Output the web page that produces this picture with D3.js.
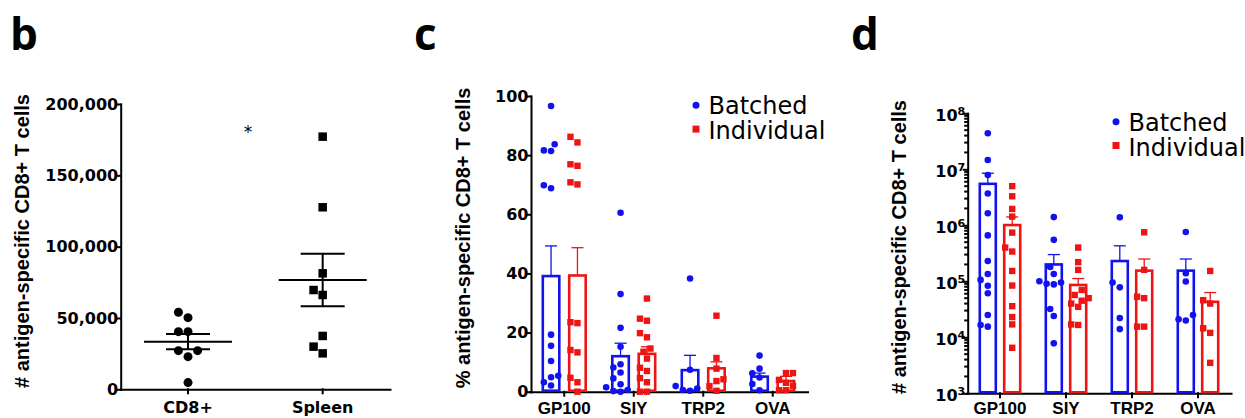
<!DOCTYPE html>
<html>
<head>
<meta charset="utf-8">
<script src="https://cdn.jsdelivr.net/npm/d3@7"></script>
<style>
  body { margin: 0; background: #fff; }
  svg { display: block; }
  .axis text { font-family: "DejaVu Sans"; font-weight: bold; font-size: 16px; fill: #000; }
  .axis.cat text { font-family: "Liberation Sans"; font-size: 17px; }
  .axis path, .axis line { stroke: #000; stroke-width: 2; stroke-linecap: square; }
  .ylab { font-family: "Liberation Sans"; font-weight: bold; font-size: 20px; }
  .legend { font-family: "DejaVu Sans"; font-size: 24px; }
  .panel { font-family: "Open Sans"; font-weight: bold; font-size: 44px; }
</style>
</head>
<body>
<svg id="chart" width="1245" height="418"></svg>
<script>
// ---- panel b data
var bGroups = ["CD8+", "Spleen"];
var bCD8 = [54000, 50200, 40400, 40400, 27100, 27100, 22900, 4700];
var bSpleen = [177100, 127600, 81300, 69600, 66100, 37400, 29900, 25200];
var bMean = [33400, 76600];
var bSem = [5400, 18400];
var bTicks = [0, 50000, 100000, 150000, 200000];

// ---- panels c / d shared
var categories = ["GP100", "SIY", "TRP2", "OVA"];
var seriesNames = ["Batched", "Individual"];

// ---- panel c data (% of CD8+ T cells)
var cTicks = [0, 20, 40, 60, 80, 100];
var cBatchedMean = [39.1, 12.0, 7.3, 5.1];
var cBatchedSem = [10.2, 4.4, 5.0, 1.2];
var cIndividualMean = [39.3, 12.8, 7.9, 3.6];
var cIndividualSem = [9.4, 2.4, 2.2, 1.6];
var cBatchedPoints = [
  [96.6, 83.7, 81.6, 81.4, 69.8, 68.8, 19.3, 15.5, 10.4, 5.4, 4.9, 3.2, 2.1],
  [60.5, 33.0, 21.6, 15.2, 9.3, 8.2, 6.5, 4.5, 2.5, 1.5, 0.6, 0.2, 0],
  [38.3, 7.4, 1.9, 1.1, 0.6, 0.3],
  [12.2, 7.8, 6.2, 4.8, 2.6, 0.5]
];
var cIndividualPoints = [
  [86.2, 84.3, 76.9, 76.4, 70.8, 70.1, 23.5, 23.2, 14.1, 13.3, 4.7, 3.2, 0],
  [31.5, 24.7, 24.0, 19.8, 18.4, 14.6, 13.5, 11.2, 8.1, 7.0, 4.6, 3.2, 0, 0],
  [25.7, 11.4, 7.8, 4.2, 3.6, 1.9, 0.3],
  [6.3, 6.3, 4.0, 3.0, 2.0, 0.5, 0.5]
];

// ---- panel d data (# cells, log)
var dTicks = [1e3, 1e4, 1e5, 1e6, 1e7, 1e8];
var dBatchedMean = [5.5e6, 2.0e5, 2.3e5, 1.55e5];
var dBatchedSem = [3.0e6, 1.0e5, 2.0e5, 0.95e5];
var dIndividualMean = [1.01e6, 8.6e4, 1.55e5, 4.3e4];
var dIndividualSem = [0.4e6, 2.6e4, 0.95e5, 2.0e4];
var dBatchedPoints = [
  [4.4e7, 1.47e7, 7.9e6, 3.7e6, 1.64e6, 6.6e5, 2.3e5, 1.35e5, 1.06e5, 8.3e4, 6.1e4, 2.5e4, 1.66e4, 1.55e4],
  [1.4e6, 5.5e5, 1.8e5, 1.35e5, 1.0e5, 9.5e4, 9.0e4, 8.8e4, 3.2e4, 2.4e4, 7.8e3],
  [1.39e6, 9.5e4, 7.8e4, 2.2e4, 1.4e4],
  [7.6e5, 1.39e5, 9.9e4, 2.5e4, 2.1e4, 2.0e4]
];
var dIndividualPoints = [
  [5.0e6, 3.3e6, 1.96e6, 1.43e6, 7.4e5, 4.0e5, 3.4e5, 1.53e5, 8.4e4, 3.6e4, 2.3e4, 1.7e4, 6.5e3],
  [4.0e5, 2.2e5, 1.6e5, 7.0e4, 5.7e4, 5.0e4, 4.5e4, 4.0e4, 3.5e4, 1.7e4, 1.66e4],
  [7.5e5, 1.6e5, 5.3e4, 5.0e4, 1.55e4, 1.55e4],
  [1.53e5, 4.6e4, 4.0e4, 1.45e4, 1.2e4, 3.5e3]
];

var blue = "#1212ee";
var red = "#ee1414";

var svg = d3.select("#chart");

// simple beeswarm: x offsets so markers don't overlap
function swarm(values, yScale, d) {
  var placed = [];
  var offs = new Array(values.length);
  var order = values.map(function (v, i) { return i; })
    .sort(function (a, b) { return values[a] - values[b]; });
  order.forEach(function (i) {
    var y = yScale(values[i]);
    for (var k = 0; k < 60; k++) {
      var cand = k === 0 ? 0 : (k % 2 ? -1 : 1) * Math.ceil(k / 2) * d / 2;
      var ok = placed.every(function (p) { return Math.hypot(p[0] - cand, p[1] - y) >= d; });
      if (ok) { offs[i] = cand; placed.push([cand, y]); break; }
    }
  });
  return offs;
}

function styleAxis(g) {
  g.attr("class", "axis").attr("font-family", null).attr("font-size", null);
}

function drawMarkers(g, values, cx, yScale, color, shape, size) {
  var offs = swarm(values, yScale, size + 0.6);
  values.forEach(function (v, i) {
    if (shape === "circle") {
      g.append("circle").attr("cx", cx + offs[i]).attr("cy", yScale(v))
        .attr("r", size / 2).attr("fill", color);
    } else {
      g.append("rect").attr("x", cx + offs[i] - size / 2).attr("y", yScale(v) - size / 2)
        .attr("width", size).attr("height", size).attr("fill", color);
    }
  });
}

// ================= panel b
var yB = d3.scaleLinear().domain([0, 200000]).range([389.3, 104]);
var xB = d3.scaleBand().domain(bGroups).range([120.7, 390]);

svg.append("g").attr("transform", "translate(120.7,0)")
  .call(d3.axisLeft(yB).tickValues(bTicks).tickSize(4).tickSizeOuter(0).tickPadding(-1.5)
    .tickFormat(d3.format(",")))
  .call(styleAxis);

svg.append("g").attr("transform", "translate(0,389.3)")
  .call(d3.axisBottom(xB).tickSize(4).tickSizeOuter(0))
  .call(styleAxis)
  .selectAll("text").attr("y", 12.5);

var gb = svg.append("g");
[bCD8, bSpleen].forEach(function (vals, gi) {
  var cx = xB(bGroups[gi]) + xB.bandwidth() / 2;
  drawMarkers(gb, vals, cx, yB, "#000", gi === 0 ? "circle" : "square", gi === 0 ? 9 : 8.5);
  var m = bMean[gi], s = bSem[gi];
  gb.append("line").attr("x1", cx - 44).attr("x2", cx + 44).attr("y1", yB(m)).attr("y2", yB(m))
    .attr("stroke", "#000").attr("stroke-width", 2);
  gb.append("line").attr("x1", cx).attr("x2", cx).attr("y1", yB(m - s)).attr("y2", yB(m + s))
    .attr("stroke", "#000").attr("stroke-width", 2);
  [m - s, m + s].forEach(function (v) {
    gb.append("line").attr("x1", cx - 22).attr("x2", cx + 22).attr("y1", yB(v)).attr("y2", yB(v))
      .attr("stroke", "#000").attr("stroke-width", 2);
  });
});

svg.append("text").attr("x", 248).attr("y", 138).attr("text-anchor", "middle")
  .attr("font-family", "DejaVu Sans").attr("font-size", 17).text("*");

svg.append("text").attr("class", "ylab").attr("text-anchor", "middle")
  .attr("transform", "translate(29,241) rotate(-90)")
  .text("# antigen-specific CD8+ T cells");

// ================= bar panels (c and d)
function barPanel(opt) {
  var g = svg.append("g");
  var x = d3.scaleBand().domain(categories).range(opt.xRange);
  var y = opt.y;
  var base = y.range()[0];

  var ya = g.append("g").attr("transform", "translate(" + opt.axisX + ",0)")
    .call(d3.axisLeft(y).tickValues(opt.ticks).tickSize(4).tickSizeOuter(0).tickPadding(-1.5)
      .tickFormat(opt.fmt || null))
    .call(styleAxis);
  if (opt.log) {
    ya.selectAll(".tick text").each(function (d) {
      var t = d3.select(this).text(null).attr("dy", "0.46em");
      t.append("tspan").text("10");
      t.append("tspan").attr("dy", -6.5).attr("font-size", 11).text(Math.round(Math.log10(d)));
    });
    // minor ticks
    var minor = [];
    for (var e = 3; e < 8; e++) for (var k = 2; k < 10; k++) minor.push(k * Math.pow(10, e));
    ya.selectAll(".minor").data(minor).enter().append("line")
      .attr("x1", -2.5).attr("x2", 0).attr("y1", function (d) { return y(d); })
      .attr("y2", function (d) { return y(d); })
      .attr("stroke", "#000").attr("stroke-width", 1);
  }

  g.append("g").attr("transform", "translate(0," + base + ")")
    .call(d3.axisBottom(x).tickSize(4).tickSizeOuter(0))
    .call(styleAxis)
    .classed("cat", true)
    .selectAll("text").attr("y", opt.labelY);

  var series = [
    { mean: opt.mean[0], sem: opt.sem[0], pts: opt.pts[0], color: blue, shape: "circle", off: -opt.off },
    { mean: opt.mean[1], sem: opt.sem[1], pts: opt.pts[1], color: red, shape: "square", off: opt.off }
  ];
  series.forEach(function (s) {
    categories.forEach(function (c, i) {
      var cx = x(c) + x.bandwidth() / 2 + s.off;
      var top = y(s.mean[i]), etop = y(s.mean[i] + s.sem[i]);
      g.append("line").attr("x1", cx).attr("x2", cx).attr("y1", top).attr("y2", etop)
        .attr("stroke", s.color).attr("stroke-width", 1.3);
      g.append("line").attr("x1", cx - 6).attr("x2", cx + 6).attr("y1", etop).attr("y2", etop)
        .attr("stroke", s.color).attr("stroke-width", 1.3);
      g.append("rect").attr("x", cx - opt.barW / 2).attr("y", top)
        .attr("width", opt.barW).attr("height", base - 1 - top)
        .attr("fill", "none").attr("stroke", s.color).attr("stroke-width", 2.6);
      drawMarkers(g, s.pts[i], cx, y, s.color, s.shape, s.shape === "circle" ? 6.6 : 6.4);
    });
  });

  // legend
  var lg = g.append("g").attr("class", "legend");
  seriesNames.forEach(function (n, i) {
    var ly = opt.legY + i * 24.8;
    if (i === 0) lg.append("circle").attr("cx", opt.legX).attr("cy", ly - 9).attr("r", 3.5).attr("fill", blue);
    else lg.append("rect").attr("x", opt.legX - 3.5).attr("y", ly - 13.5).attr("width", 7).attr("height", 7).attr("fill", red);
    lg.append("text").attr("x", opt.legX + 12.5).attr("y", ly).text(n);
  });

  svg.append("text").attr("class", "ylab").attr("text-anchor", "middle")
    .attr("transform", "translate(" + opt.ylabX + "," + opt.ylabY + ") rotate(-90)")
    .text(opt.ylab);
}

barPanel({
  y: d3.scaleLinear().domain([0, 100]).range([391.7, 96]),
  xRange: [529.5, 807.5], axisX: 531, ticks: cTicks, labelY: 10.2,
  mean: [cBatchedMean, cIndividualMean], sem: [cBatchedSem, cIndividualSem],
  pts: [cBatchedPoints, cIndividualPoints], off: 13.2, barW: 16.5,
  legX: 696, legY: 114.3, ylabX: 470, ylabY: 238,
  ylab: "% antigen-specific CD8+ T cells"
});

barPanel({
  y: d3.scaleLog().domain([1e3, 1e8]).range([393.3, 113.3]), log: true,
  xRange: [967, 1231], axisX: 967.7, ticks: dTicks, labelY: 8.6,
  mean: [dBatchedMean, dIndividualMean], sem: [dBatchedSem, dIndividualSem],
  pts: [dBatchedPoints, dIndividualPoints], off: 12.2, barW: 16,
  legX: 1116, legY: 130.7, ylabX: 906, ylabY: 247,
  ylab: "# antigen-specific CD8+ T cells"
});

// panel letters
[["b", 10], ["c", 414], ["d", 851]].forEach(function (p) {
  svg.append("text").attr("class", "panel").attr("x", p[1]).attr("y", 50).text(p[0]);
});
</script>
</body>
</html>
